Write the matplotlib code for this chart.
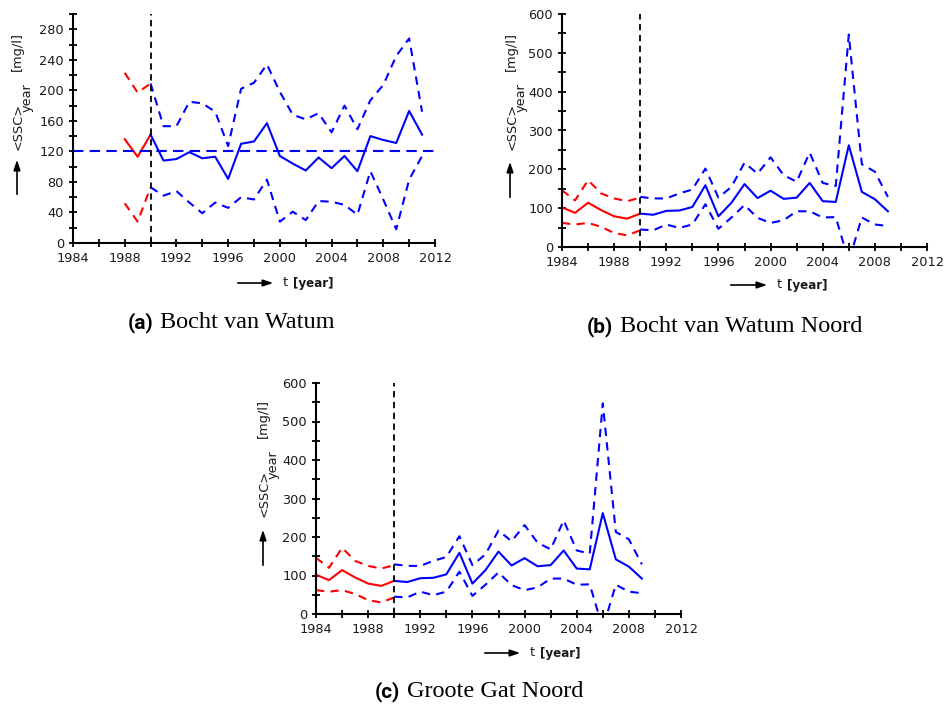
import numpy as np
import matplotlib
matplotlib.use("Agg")
import matplotlib.pyplot as plt
from matplotlib.ticker import MultipleLocator

plt.rcParams['font.family'] = 'DejaVu Sans'

# --- (a) Bocht van Watum ---
a_yr_red = [1988, 1989, 1990]
a_mean_red = [136, 113, 142]
a_up_red = [223, 197, 209]
a_lo_red = [52, 28, 73]

a_yr = list(range(1990, 2012))
a_mean = [142, 108, 110, 119, 111, 113, 84, 130, 133, 157, 114, 104,
          95, 112, 98, 114, 94, 140, 135, 131, 173, 142]
a_up = [209, 153, 153, 185, 183, 172, 127, 202, 210, 234, 198, 168,
        162, 170, 145, 180, 149, 187, 207, 245, 268, 172]
a_lo = [73, 62, 68, 53, 39, 53, 46, 60, 57, 83, 28, 41,
        30, 55, 54, 50, 37, 94, 57, 18, 83, 114]
a_ref = 120

# --- (b) Bocht van Watum Noord / (c) Groote Gat Noord ---
b_yr_red = list(range(1984, 1991))
b_mean_red = [102, 88, 114, 95, 79, 73, 86]
b_up_red = [146, 120, 172, 138, 125, 118, 127]
b_lo_red = [62, 58, 62, 52, 36, 30, 43]

b_yr = list(range(1990, 2010))
b_mean = [86, 83, 93, 94, 103, 159, 79, 114, 162, 126, 145, 124,
          127, 165, 118, 116, 262, 142, 123, 92]
b_up = [129, 125, 125, 138, 148, 202, 127, 155, 217, 189, 231, 185,
        168, 243, 165, 157, 547, 213, 194, 129]
b_lo = [45, 43, 58, 49, 58, 110, 47, 76, 108, 75, 62, 69,
        92, 92, 76, 77, -37, 76, 58, 54]

W, H = 945, 705
fig = plt.figure(figsize=(W / 100, H / 100), dpi=100)

BLUE = '#0000ff'
RED = '#ff0000'
DASH = (0, (4, 3))
FS = 9.3


def fx(x):
    return x / W


def fy(y):
    return 1 - y / H


def panel(rect, yr_r, m_r, u_r, l_r, yr, m, u, l, ymax, ymaj, ref=None):
    ax = fig.add_axes(rect)
    ax.plot(yr_r, m_r, color=RED, lw=1.5)
    ax.plot(yr_r, u_r, color=RED, lw=1.5, ls=DASH)
    ax.plot(yr_r, l_r, color=RED, lw=1.5, ls=DASH)
    ax.plot(yr, m, color=BLUE, lw=1.5)
    ax.plot(yr, u, color=BLUE, lw=1.5, ls=DASH)
    ax.plot(yr, l, color=BLUE, lw=1.5, ls=DASH)
    if ref is not None:
        ax.axhline(ref, color=BLUE, lw=1.5, ls=(0, (5, 3)))
    ax.axvline(1990, color='k', lw=1.3, ls=(0, (3.5, 2.5)))
    ax.set_xlim(1984, 2012)
    ax.set_ylim(0, ymax)
    ax.xaxis.set_major_locator(MultipleLocator(4))
    ax.xaxis.set_minor_locator(MultipleLocator(2))
    ax.yaxis.set_major_locator(MultipleLocator(ymaj))
    ax.yaxis.set_minor_locator(MultipleLocator(ymaj / 2))
    for s in ['top', 'right']:
        ax.spines[s].set_visible(False)
    for s in ['left', 'bottom']:
        ax.spines[s].set_linewidth(1.5)
    ax.tick_params(which='both', direction='inout', length=6, width=1.3,
                   labelsize=FS, pad=3.5, labelcolor='#1a1a1a')
    return ax


panel([fx(73), fy(243), fx(435) - fx(73), fy(14) - fy(243)],
      a_yr_red, a_mean_red, a_up_red, a_lo_red, a_yr, a_mean, a_up, a_lo,
      300, 40, ref=a_ref)
panel([fx(562), fy(247), fx(927) - fx(562), fy(14) - fy(247)],
      b_yr_red, b_mean_red, b_up_red, b_lo_red, b_yr, b_mean, b_up, b_lo,
      600, 100)
panel([fx(316), fy(614), fx(681) - fx(316), fy(383) - fy(614)],
      b_yr_red, b_mean_red, b_up_red, b_lo_red, b_yr, b_mean, b_up, b_lo,
      600, 100)

arrow = dict(arrowstyle='-|>,head_length=0.6,head_width=0.2', color='k', lw=1.2)


def ylab(x, ybot, ax0, ay0, ay1):
    # <SSC>_year [mg/l], written bottom-to-top
    fig.text(fx(x), fy(ybot), '<SSC>', rotation=90, ha='center', va='bottom',
             fontsize=FS, color='#1a1a1a')
    fig.text(fx(x + 9), fy(ybot - 38), 'year', rotation=90, ha='center',
             va='bottom', fontsize=FS, color='#1a1a1a')
    fig.text(fx(x - 1), fy(ybot - 79), '[mg/l]', rotation=90, ha='center',
             va='bottom', fontsize=FS, color='#1a1a1a')
    plt.annotate('', xy=(fx(ax0), fy(ay1)), xytext=(fx(ax0), fy(ay0)),
                 xycoords='figure fraction', arrowprops=arrow)


def xlab(x0, x1, y):
    plt.annotate('', xy=(fx(x1), fy(y)), xytext=(fx(x0), fy(y)),
                 xycoords='figure fraction', arrowprops=arrow)
    fig.text(fx(x1 + 7), fy(y), 't', ha='left', va='center', fontsize=FS,
             color='#1a1a1a')
    fig.text(fx(x1 + 17), fy(y), '[year]', ha='left', va='center',
             fontsize=8.6, fontweight='bold', color='#1a1a1a')


ylab(18, 150, 17, 197, 157)
ylab(512, 150, 510, 200, 159)
ylab(264, 517, 263, 568, 527)
xlab(235, 276, 283)
xlab(728, 770, 285)
xlab(482, 523, 653)


def caption(x_lab, x_name, y, lab, name):
    fig.text(fx(x_lab), fy(y), lab, ha='left', va='baseline', fontsize=15,
             family='Roboto', fontweight='bold')
    fig.text(fx(x_name), fy(y), name, ha='left', va='baseline', fontsize=17.5,
             family='Liberation Serif')


caption(128, 160, 328, '(a)', 'Bocht van Watum')
caption(587, 620, 332, '(b)', 'Bocht van Watum Noord')
caption(375, 407, 697, '(c)', 'Groote Gat Noord')

fig.savefig('out.png', dpi=100)
